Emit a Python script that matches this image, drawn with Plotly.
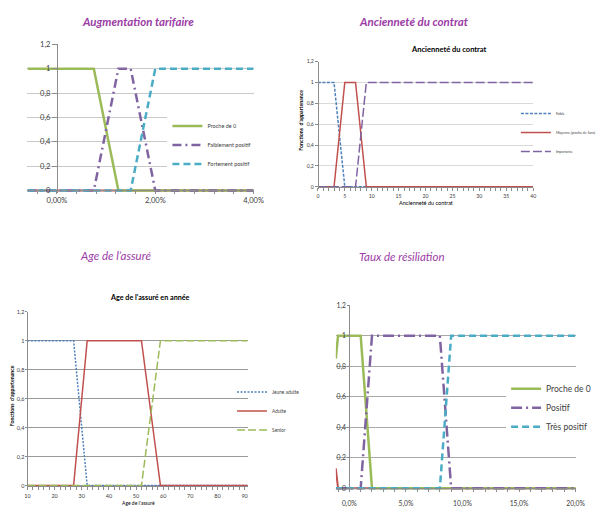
import plotly.graph_objects as go

FONT = "Lato"
W, H = 613, 509

# ---------------- Data ----------------
# Augmentation tarifaire (x as fraction, shown as %)
aug_names = ["Proche de 0", "Faiblement positif", "Fortement positif"]
aug_autre_x = [-0.006, 0.04]
aug_autre_y = [0, 0]
aug_proche_x = [-0.006, 0.0075, 0.0125, 0.04]
aug_proche_y = [1, 1, 0, 0]
aug_faible_x = [-0.006, 0.0075, 0.0125, 0.015, 0.02, 0.04]
aug_faible_y = [0, 0, 1, 1, 0, 0]
aug_fort_x = [-0.006, 0.015, 0.02, 0.04]
aug_fort_y = [0, 0, 1, 1]

# Ancienneté du contrat (years)
anc_names = ["Faible", "Moyenne (proche de 5ans)", "Importante"]
anc_faible_x = [0, 3, 5, 9]
anc_faible_y = [1, 1, 0, 0]
anc_moy_x = [0, 3, 5, 7, 9, 40]
anc_moy_y = [0, 0, 1, 1, 0, 0]
anc_imp_x = [0, 7, 9, 40]
anc_imp_y = [0, 0, 1, 1]

# Age de l'assuré (years)
age_names = ["Jeune adulte", "Adulte", "Senior"]
age_jeune_x = [10, 27, 32, 91]
age_jeune_y = [1, 1, 0, 0]
age_adulte_x = [10, 27, 32, 52, 59, 91]
age_adulte_y = [0, 0, 1, 1, 0, 0]
age_senior_x = [10, 52, 59, 91]
age_senior_y = [0, 0, 1, 1]

# Taux de résiliation (x as fraction, shown as %)
tx_names = ["Proche de 0", "Positif", "Très positif"]
tx_autre_x = [-0.012, -0.01, 0.2]
tx_autre_y = [0.13, 0, 0]
tx_proche_x = [-0.012, -0.01, 0.01, 0.02, 0.2]
tx_proche_y = [0.85, 1, 1, 0, 0]
tx_positif_x = [-0.012, 0.01, 0.02, 0.08, 0.09, 0.2]
tx_positif_y = [0, 0, 1, 1, 0, 0]
tx_tres_x = [-0.012, 0.08, 0.09, 0.2]
tx_tres_y = [0, 0, 1, 1]

# ---------------- Styles ----------------
BLUE, RED, GREEN, PURPLE, CYAN = "#4F81BD", "#C0504D", "#9BBB59", "#8064A2", "#4BACC6"
TITLE_COLOR = "#9B3CA6"

fig = go.Figure()


def add(x, y, name, color, width, dash, k, legend, show=True):
    sfx = "" if k == 1 else str(k)
    fig.add_trace(go.Scatter(
        x=x, y=y, name=name, mode="lines",
        line=dict(color=color, width=width, dash=dash),
        xaxis="x" + sfx, yaxis="y" + sfx, legend=legend,
        showlegend=show, hoverinfo="skip"))


# Panel 1
add(aug_autre_x, aug_autre_y, "", RED, 2, "solid", 1, "legend", False)
add(aug_proche_x, aug_proche_y, aug_names[0], GREEN, 2.5, "solid", 1, "legend")
add(aug_faible_x, aug_faible_y, aug_names[1], PURPLE, 2.5, "9px,4px,2px,4px", 1, "legend")
add(aug_fort_x, aug_fort_y, aug_names[2], CYAN, 2.5, "7px,4px", 1, "legend")
# Panel 2
add(anc_faible_x, anc_faible_y, anc_names[0], BLUE, 1.5, "3px,1.5px", 2, "legend2")
add(anc_moy_x, anc_moy_y, anc_names[1], RED, 1.5, "solid", 2, "legend2")
add(anc_imp_x, anc_imp_y, anc_names[2], PURPLE, 1.5, "9px,3px", 2, "legend2")
# Panel 3
add(age_jeune_x, age_jeune_y, age_names[0], BLUE, 1.5, "2px,1.5px", 3, "legend3")
add(age_adulte_x, age_adulte_y, age_names[1], RED, 1.5, "solid", 3, "legend3")
add(age_senior_x, age_senior_y, age_names[2], GREEN, 1.5, "8px,3px", 3, "legend3")
# Panel 4
add(tx_autre_x, tx_autre_y, "", RED, 2, "solid", 4, "legend4", False)
add(tx_proche_x, tx_proche_y, tx_names[0], GREEN, 2.5, "solid", 4, "legend4")
add(tx_positif_x, tx_positif_y, tx_names[1], PURPLE, 2.5, "11px,4px,2px,4px", 4, "legend4")
add(tx_tres_x, tx_tres_y, tx_names[2], CYAN, 2.5, "7px,4px", 4, "legend4")


def px_x(p):
    return p / W


def px_y(p):
    return 1 - p / H


YR = [-0.02, 1.2]
panels = {
    # k: (x px domain, px of y=0, px of y=1.2, x range, xfmt, dtick, tick0, minor, grid color, grid width,
    #     tick size, ticklen y, x label standoff)
    1: ([25, 256], 188, 40, [-0.006, 0.04], ".2%", 0.02, 0, 0.004, "#C9C9C9", 1, 7.5, 5, 0),
    2: ([321.7, 541.7], 184.3, 57.3, [0, 40], "", 5, 0, 1, "#D9D9D9", 1, 5.2, 3, 1),
    3: ([25, 250.7], 487.3, 311, [10, 91.4], "", 10, 10, 2, "#9A9A9A", 1.3, 5.5, 2, 2),
    4: ([340, 585], 490, 304.3, [-0.012, 0.2], ".1%", 0.05, 0, 0.01, "#A9A9A9", 1, 6.8, 2, 6),
}

layout_axes = {}
for k, (xd, p0, p12, xr, xfmt, dt, t0, mn, gc, gw, ts, tly, stand) in panels.items():
    sfx = "" if k == 1 else str(k)
    pb = p0 + (p0 - p12) / 1.2 * (0 - YR[0])
    xdom = [px_x(xd[0]), px_x(xd[1])]
    ydom = [px_y(pb), px_y(p12)]
    x0 = max(xr[0], 0)
    ypos = xdom[0] + (x0 - xr[0]) / (xr[1] - xr[0]) * (xdom[1] - xdom[0])
    xpos = px_y(p0)
    layout_axes["xaxis" + sfx] = dict(
        domain=xdom, range=xr, anchor="free", position=xpos,
        showgrid=False, zeroline=False, showline=True, linecolor="#8C8C8C", linewidth=1,
        tickmode="linear", tick0=t0, dtick=dt, tickformat=xfmt,
        ticks="outside", ticklen=3, tickcolor="#8C8C8C", ticklabelstandoff=stand,
        minor=dict(tickmode="linear", tick0=t0, dtick=mn, ticks="outside", ticklen=3,
                   tickcolor="#8C8C8C", showgrid=False),
        tickfont=dict(family=FONT, size=ts, color="#404040"),
        fixedrange=True)
    layout_axes["yaxis" + sfx] = dict(
        domain=ydom, range=YR, anchor="free", position=ypos,
        showgrid=True, gridcolor=gc, gridwidth=gw, zeroline=False,
        showline=True, linecolor="#8C8C8C", linewidth=1,
        tickmode="linear", tick0=0, dtick=0.2,
        ticks="outside", ticklen=tly, tickcolor="#8C8C8C",
        tickfont=dict(family=FONT, size=ts, color="#404040"),
        fixedrange=True)


def legend_cfg(text_x, mid_y, size, bg, off=40):
    return dict(x=px_x(text_x - off), y=px_y(mid_y), xanchor="left", yanchor="middle",
                font=dict(family=FONT, size=size, color="#404040"),
                bgcolor=bg, borderwidth=0, itemwidth=30, tracegroupgap=0)


annotations = []


def note(text, x, y, size, color, italic=False, bold=False, angle=0):
    annotations.append(dict(
        text=("<b>%s</b>" % text) if bold else text,
        x=px_x(x), y=px_y(y), xref="paper", yref="paper",
        xanchor="center", yanchor="middle", showarrow=False, textangle=angle,
        font=dict(family=FONT, size=size, color=color, style="italic" if italic else "normal")))


# Panel titles (outside the charts)
note("Augmentation tarifaire", 137.5, 17, 11.5, TITLE_COLOR, italic=True, bold=True)
note("Ancienneté du contrat", 420, 17, 11.5, TITLE_COLOR, italic=True, bold=True)
note("Age de l’assuré", 114.5, 254, 11.5, TITLE_COLOR, italic=True)
note("Taux de résiliation", 407.7, 255, 11.5, TITLE_COLOR, italic=True)
# Inner chart titles
note("Ancienneté du contrat", 455.7, 45, 7.5, "#000000", bold=True)
note("Age de l'assuré en année", 150, 296.5, 7.2, "#000000", bold=True)
# Axis titles
note("Ancienneté du contrat", 431.7, 200.5, 5.5, "#000000")
note("<b>Fonctions  d'appartenance</b>", 305, 116.7, 5.2, "#000000", angle=-90)
note("<b>Fonctions  d'appartenance</b>", 10, 395.8, 5.2, "#000000", angle=-90)
note("Age de l'assuré", 138.3, 505, 5, "#000000")

fig.update_layout(
    width=W, height=H, margin=dict(l=0, r=0, t=0, b=0),
    paper_bgcolor="white", plot_bgcolor="white",
    separators=", ",
    font=dict(family=FONT),
    legend=legend_cfg(208, 142, 5.5, "white"),
    legend2=legend_cfg(560, 129.3, 3.4, "rgba(0,0,0,0)", off=36),
    legend3=legend_cfg(274, 411.7, 4.8, "rgba(0,0,0,0)"),
    legend4=legend_cfg(546, 408.3, 8.5, "white", off=32),
    annotations=annotations,
    **layout_axes,
)

fig.write_html(
    "out.html",
    config={"displayModeBar": False},
    post_script="document.body.style.margin='0';document.body.style.padding='0';",
)
